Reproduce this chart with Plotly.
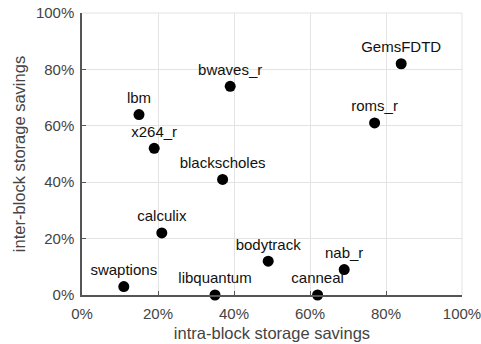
import plotly.graph_objects as go

names = ["GemsFDTD", "bwaves_r", "lbm", "roms_r", "x264_r", "blackscholes",
         "calculix", "bodytrack", "nab_r", "swaptions", "libquantum", "canneal"]
intra = [84, 39, 15, 77, 19, 37, 21, 49, 69, 11, 35, 62]
inter = [82, 74, 64, 61, 52, 41, 22, 12, 9, 3, 0, 0]
ticks = [0, 20, 40, 60, 80, 100]
tick_labels = [f"{t}%" for t in ticks]

FONT = "Liberation Sans, Arial, sans-serif"

fig = go.Figure(go.Scatter(
    x=intra, y=inter, mode="markers+text", text=names,
    textposition="top center",
    textfont=dict(family=FONT, size=15, color="#111"),
    marker=dict(size=11, color="black"),
    cliponaxis=False,
))

axis_common = dict(
    range=[0, 100], tickvals=ticks, ticktext=tick_labels,
    showgrid=True, gridcolor="#e3e3e3", gridwidth=1,
    showline=True, linecolor="#555", linewidth=1.5,
    ticks="inside", ticklen=4, tickcolor="#555",
    tickfont=dict(family=FONT, size=15, color="#444"),
    ticklabeloverflow="allow",
    zeroline=False, fixedrange=True, automargin=False,
)

fig.update_layout(
    width=481, height=344,
    margin=dict(l=82, r=19, t=13, b=49),
    paper_bgcolor="white", plot_bgcolor="white",
    showlegend=False,
    xaxis=dict(**axis_common, ticklabelstandoff=4,
               title=dict(text="intra-block storage savings", standoff=7,
                          font=dict(family=FONT, size=16.5, color="#444"))),
    yaxis=dict(**axis_common, ticklabelstandoff=3,
               title=dict(text="inter-block storage savings", standoff=6,
                          font=dict(family=FONT, size=16.5, color="#444"))),
    shapes=[
        dict(type="line", xref="paper", yref="paper", x0=1, x1=1, y0=0, y1=1,
             line=dict(color="#e3e3e3", width=1)),
        dict(type="line", xref="paper", yref="paper", x0=0, x1=1, y0=1, y1=1,
             line=dict(color="#e3e3e3", width=1)),
    ],
)

fig.write_html("out.html", config={"displayModeBar": False},
               post_script="document.body.style.margin='0';")
